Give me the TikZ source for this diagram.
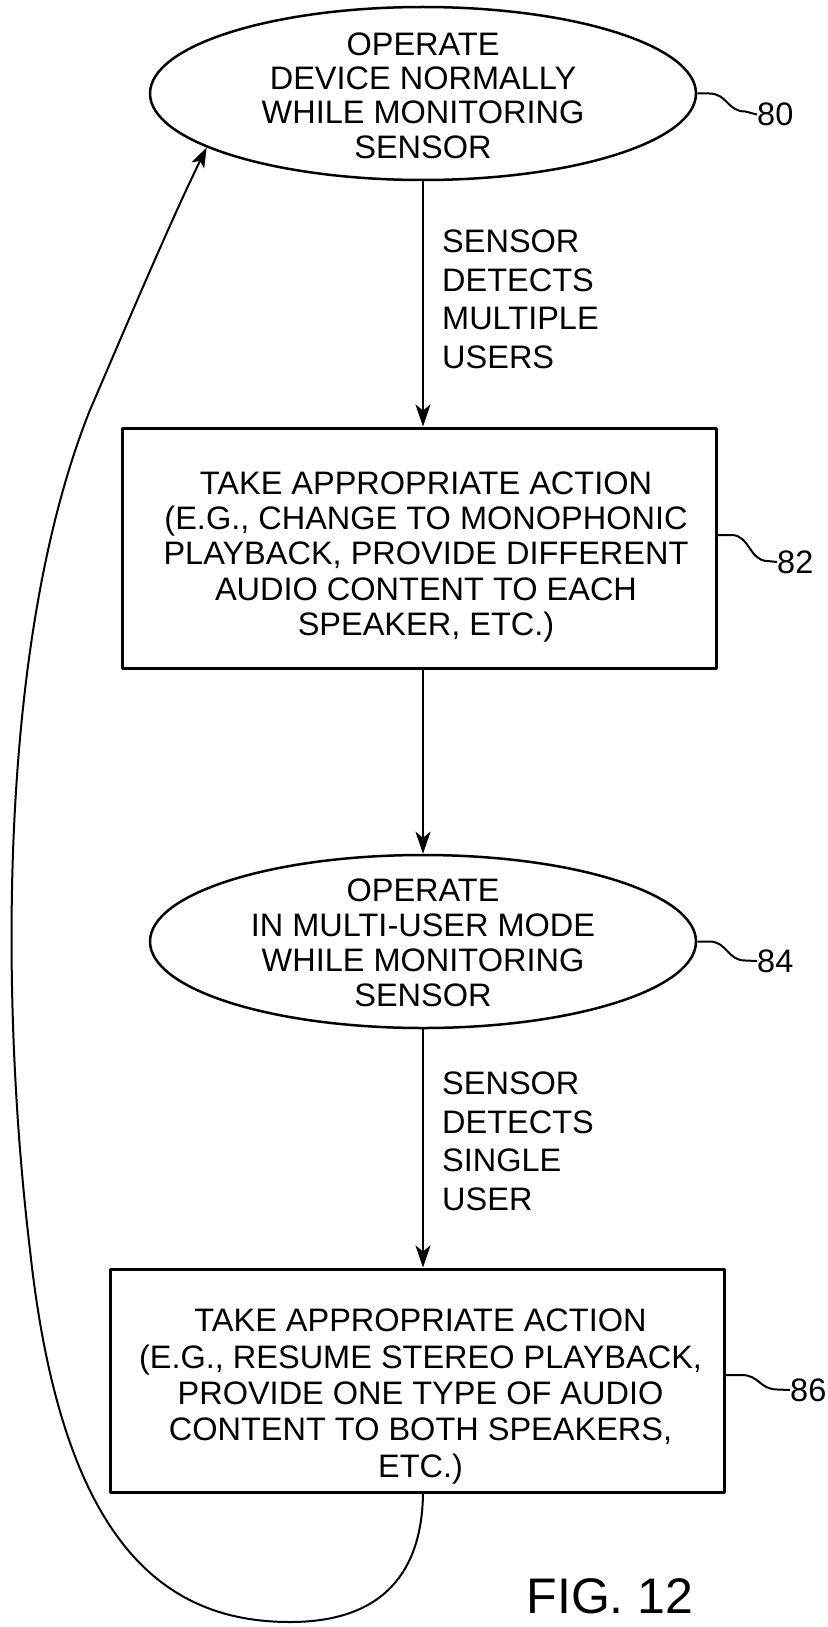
\documentclass[tikz,border=0pt]{standalone}
\usepackage{fontspec}
\setmainfont{Liberation Sans}
\usetikzlibrary{shapes.geometric,arrows.meta}
\newcommand{\dft}[1]{\fontsize{32.5}{#1}\selectfont}
\begin{document}
\begin{tikzpicture}[x=1pt,y=-1pt,line join=round,
  oval/.style={ellipse,draw,line width=2.5pt,minimum width=546pt,minimum height=173pt,inner sep=0pt},
  actbox/.style={rectangle,draw,line width=3pt,inner sep=0pt},
  txt/.style={align=center,inner sep=0pt},
  cond/.style={align=left,anchor=north west,inner sep=0pt,font=\dft{38.5}},
  flow/.style={line width=2.5pt,-{Stealth[length=22pt,width=15pt,inset=6pt]}},
  loop/.style={line width=2pt,-{Stealth[length=20pt,width=14pt,inset=5pt]}},
  lead/.style={line width=2pt},
  refnum/.style={anchor=west,inner sep=0pt,font=\dft{36}}]
\useasboundingbox (0,0) rectangle (827,1627);

% shapes
\node[oval] (e80) at (423,93.5) {};
\node[txt,font=\dft{34.3}] (e80t) at (423,95.5) {OPERATE\\DEVICE NORMALLY\\WHILE MONITORING\\SENSOR};

\node[actbox,minimum width=594pt,minimum height=240pt] (b82) at (419,548) {};
\node[txt,font=\dft{35.25}] (b82t) at (426,557) {TAKE APPROPRIATE ACTION\\(E.G., CHANGE TO MONOPHONIC\\PLAYBACK, PROVIDE DIFFERENT\\AUDIO CONTENT TO EACH\\SPEAKER, ETC.)};

\node[oval] (e84) at (423,941.5) {};
\node[txt,font=\dft{35}] (e84t) at (423,942.5) {OPERATE\\IN MULTI-USER MODE\\WHILE MONITORING\\SENSOR};

\node[actbox,minimum width=614pt,minimum height=223pt] (b86) at (417,1380.5) {};
\node[txt,font=\dft{36.5}] (b86t) at (420.5,1396.5) {TAKE APPROPRIATE ACTION\\(E.G., RESUME STEREO PLAYBACK,\\PROVIDE ONE TYPE OF AUDIO\\CONTENT TO BOTH SPEAKERS,\\ETC.)};

% condition labels
\node[cond] (c1) at (442,230) {SENSOR\\DETECTS\\MULTIPLE\\USERS};
\node[cond] (c2) at (442,1072) {SENSOR\\DETECTS\\SINGLE\\USER};

% flow arrows
\draw[flow] (e80.south) -- (e80.south |- b82.north);
\draw[flow] (e84.north |- b82.south) -- (e84.north);
\draw[flow] (e84.south) -- (e84.south |- b86.north);

% return loop
\draw[loop] (e84.south |- b86.south)
  .. controls (422,1570) and (385,1622) .. (290,1622)
  .. controls (165,1622) and (62,1545) .. (30,1250)
  .. controls (0,1000) and (-2,640) .. (90,410)
  .. controls (118,345) and (170,222) .. (e80.194);

% reference numerals
\node[refnum] (r80) at (757,114.5) {80};
\node[refnum] (r82) at (777,562) {82};
\node[refnum] (r84) at (757,961) {84};
\node[refnum] (r86) at (790,1390) {86};

\draw[lead] (e80.east) -- ++(12,0) .. controls +(18,0) and +(-18,0) .. ++(36,18) -- (r80.west);
\draw[lead] (e84.east) -- ++(12,0) .. controls +(18,0) and +(-18,0) .. ++(36,19) -- (r84.west);
\draw[lead] ([yshift=13pt]b82.east) -- ++(14,0) .. controls +(18,0) and +(-18,0) .. ++(36,26) -- (r82.west);
\draw[lead] ([yshift=5.5pt]b86.east) -- ++(16,0) .. controls +(18,0) and +(-18,0) .. ++(36,14.5) -- (r86.west);

\node[anchor=base,inner sep=0pt,font=\fontsize{50}{50}\selectfont] (fig) at (610,1613) {FIG. 12};
\end{tikzpicture}
\end{document}
